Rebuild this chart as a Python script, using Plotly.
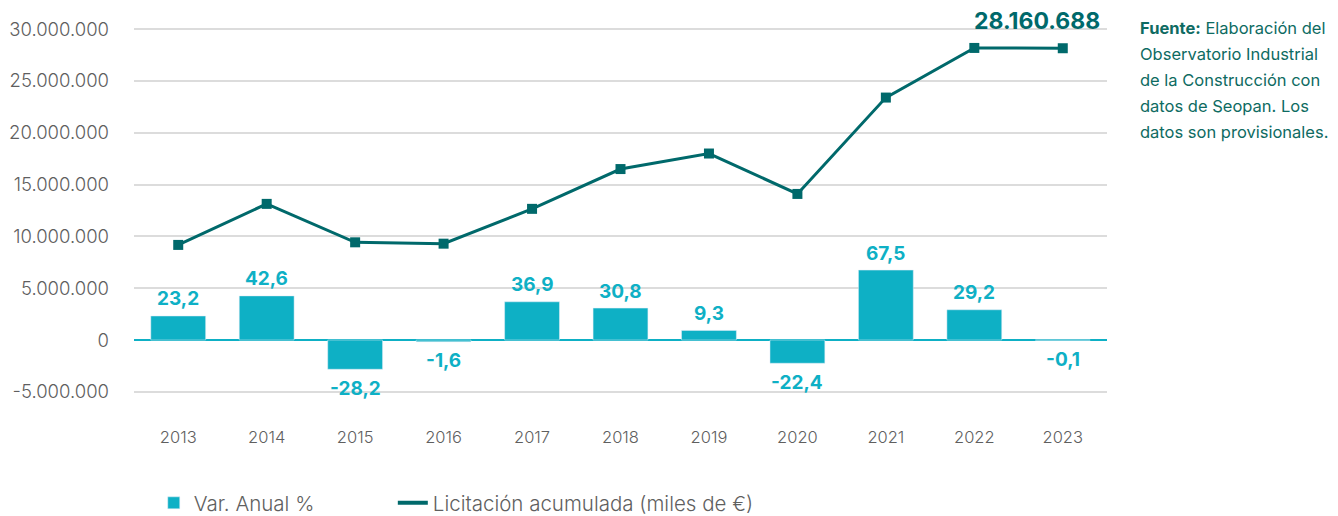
import plotly.graph_objects as go

years = ["2013", "2014", "2015", "2016", "2017", "2018", "2019", "2020", "2021", "2022", "2023"]
var_anual = [23.2, 42.6, -28.2, -1.6, 36.9, 30.8, 9.3, -22.4, 67.5, 29.2, -0.1]
licitacion = [9180000, 13140000, 9430000, 9300000, 12660000, 16500000, 18000000,
              14100000, 23400000, 28190000, 28160688]
bar_scale = 100000  # bars drawn on the same axis, % x 100.000
y_ticks = [-5000000, 0, 5000000, 10000000, 15000000, 20000000, 25000000, 30000000]
source_lines = ["<b>Fuente:</b> Elaboración del", "Observatorio Industrial",
                "de la Construcción con", "datos de Seopan. Los", "datos son provisionales."]

BAR_C = "#0EB0C5"
LINE_C = "#00696B"
TXT_C = "#5F5F5F"
SRC_C = "#0E6B62"
FONT = "Inter"


def es_int(v):
    return f"{v:,}".replace(",", ".")


bar_heights = [v * bar_scale for v in var_anual]
xi = list(range(len(years)))

fig = go.Figure()
fig.add_trace(go.Bar(x=xi, y=bar_heights, name="Var. Anual %", marker_color=BAR_C,
                     width=0.62, hoverinfo="skip", legend="legend"))
fig.add_trace(go.Scatter(x=xi, y=licitacion, name="Licitación acumulada (miles de €)",
                         mode="lines+markers", line=dict(color=LINE_C, width=3),
                         marker=dict(symbol="square", size=10, color=LINE_C),
                         showlegend=False))
# legend entry for the line (line only, no marker)
fig.add_trace(go.Scatter(x=[None], y=[None], name="Licitación acumulada (miles de €)",
                         mode="lines", line=dict(color=LINE_C, width=4), legend="legend2"))

ann = []
for i, v, h in zip(xi, var_anual, bar_heights):
    ann.append(dict(x=i, y=h, xref="x", yref="y", text=f"{v:.1f}".replace(".", ","),
                    showarrow=False, yshift=17 if v >= 0 else -19,
                    font=dict(family=FONT, size=19, color=BAR_C, weight="bold")))
ann.append(dict(x=xi[-1], y=licitacion[-1], xref="x", yref="y",
                text=es_int(licitacion[-1]), showarrow=False,
                xshift=-26, yshift=27,
                font=dict(family=FONT, size=23, color=LINE_C, weight="bold")))
for i, line in enumerate(source_lines):
    ann.append(dict(x=1.032, y=0.990 - i * 0.0648, xref="paper", yref="paper",
                    xanchor="left", yanchor="middle", text=line, showarrow=False,
                    font=dict(family=FONT, size=16.5, color=SRC_C)))

leg_font = dict(family=FONT, size=20.5, color=TXT_C, weight=300)
fig.update_layout(
    width=1346, height=540,
    margin=dict(l=126, r=247, t=16, b=123),
    plot_bgcolor="white", paper_bgcolor="white",
    separators=",.",
    showlegend=True,
    legend=dict(orientation="h", x=0.0203, y=-0.1945, xanchor="left", yanchor="middle",
                font=leg_font, bgcolor="rgba(0,0,0,0)"),
    legend2=dict(orientation="h", x=0.266, y=-0.1945, xanchor="left", yanchor="middle",
                 font=leg_font, bgcolor="rgba(0,0,0,0)"),
    annotations=ann,
    xaxis=dict(range=[-0.5, 10.5], tickvals=xi, ticktext=years, showgrid=False,
               showline=False, zeroline=False, ticks="", automargin=False,
               tickfont=dict(family=FONT, size=16.5, color=TXT_C, weight=300),
               ticklabelstandoff=0),
    yaxis=dict(range=[-8200000, 30500000], tickvals=y_ticks,
               ticktext=[es_int(t) for t in y_ticks],
               showgrid=True, gridcolor="#DCDCDC", gridwidth=1.5, automargin=False,
               zeroline=True, zerolinecolor=BAR_C, zerolinewidth=1.5,
               tickfont=dict(family=FONT, size=18.5, color=TXT_C, weight=300),
               ticklabelstandoff=24),
)

fig.write_html("out.html")
